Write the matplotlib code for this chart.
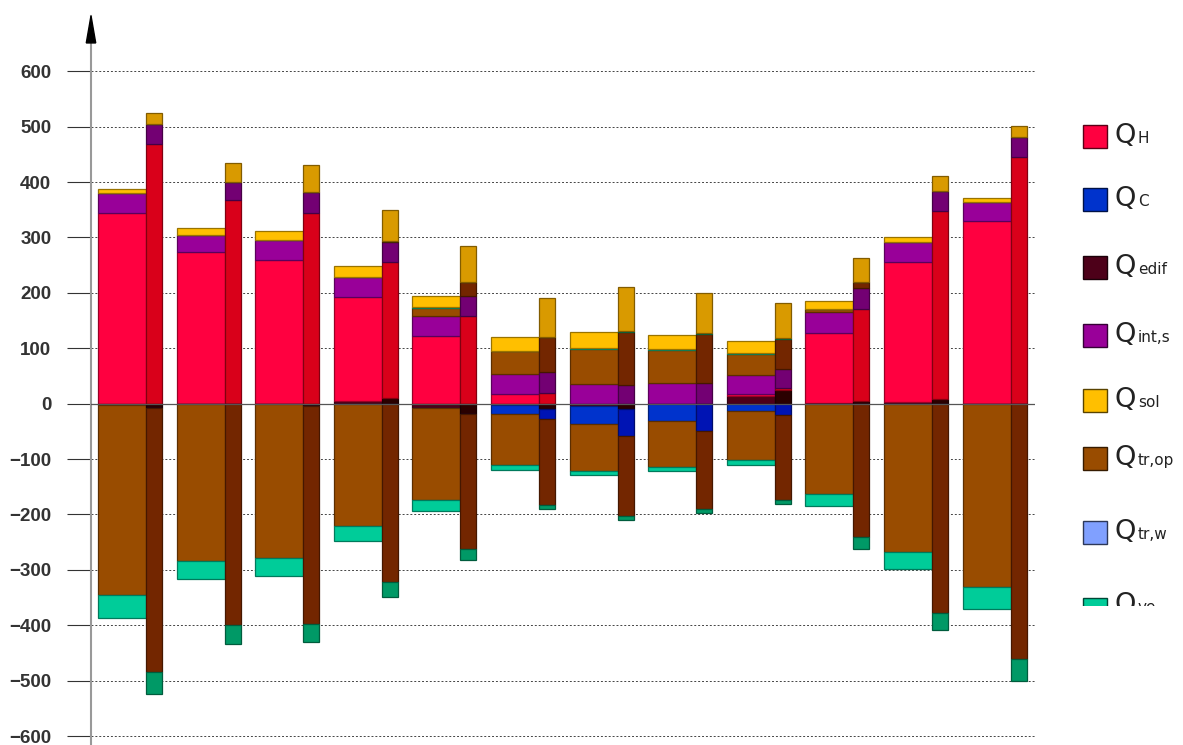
import matplotlib
matplotlib.use('Agg')
import matplotlib.pyplot as plt
from matplotlib.patches import Rectangle, Polygon
import numpy as np

months = list(range(12))

# wide bars (left of each month)
edif_pos_a = [0, 0, 0, 5, 0, 0, 0, 0, 14, 2, 3, 0]
edif_neg_a = [-2, -1, -1, 0, -8, -3, -4, 0, 0, 0, 0, 0]
qh_a = [344, 274, 259, 188, 122, 18, 0, 0, 4, 126, 252, 330]
qc_a = [0, 0, 0, 0, 0, -15, -33, -32, -14, 0, 0, 0]
qint_a = [36, 31, 36, 35, 36.5, 36, 36, 38, 33, 38, 36, 34]
trop_pos_a = [0, 0, 0, 0, 14.5, 40.5, 63.5, 58.5, 39, 4.4, 0, 0]
trop_neg_a = [-343.5, -282.6, -278, -221, -166, -93, -85, -82.4, -88, -163, -267.4, -331]
ve_pos_a = [0, 0, 0, 0, 1, 1, 1.5, 1.5, 1, 0, 0, 0]
ve_neg_a = [-41, -32.4, -32, -26.6, -20, -9, -7, -8, -9, -22, -31.6, -40]
sol_a = [8, 12, 17, 20, 20.5, 24.5, 28.5, 25.6, 21.3, 15.5, 9, 8]

# narrow bars (right of each month)
edif_pos_b = [0, 0, 0, 11, 0, 0, 0, 0, 25, 4, 8, 0]
edif_neg_b = [-8, 0, -4, 0, -19, -10, -9, 0, 0, 0, 0, 0]
qh_b = [468, 368, 344, 245, 158, 20, 0, 0, 3, 166.5, 340, 445]
qc_b = [0, 0, 0, 0, 0, -18, -49.6, -50, -21, 0, 0, 0]
qint_b = [36, 32, 38, 36, 36.5, 37, 33, 38, 35, 37.5, 36, 36]
trop_pos_b = [0, 0, 0, 2, 25.5, 62.5, 96.5, 87.4, 54, 10.7, 0, 0]
trop_neg_b = [-476, -400, -394, -321.5, -243.5, -154.5, -144, -141, -153, -241.5, -377, -460]
ve_pos_b = [0, 0, 0, 0, 0, 1, 1.5, 1.5, 1, 0, 0, 0]
ve_neg_b = [-40, -33, -32, -27, -20, -7, -6.5, -7, -8, -21, -32, -40]
sol_b = [21, 34.5, 49, 55, 64, 71, 78.7, 72, 63.4, 44.3, 26.5, 19.7]

legend_labels = [('Q', 'H'), ('Q', 'C'), ('Q', 'edif'), ('Q', 'int,s'),
                 ('Q', 'sol'), ('Q', 'tr,op'), ('Q', 'tr,w'), ('Q', 've')]

colors_a = {'edif': '#4D0019', 'qh': '#FF0040', 'qc': '#0033CC', 'qint': '#990099',
            'sol': '#FFBF00', 'trop': '#994C00', 'trw': '#80A0FF', 've': '#00CC99'}
colors_b = {'edif': '#2A0000', 'qh': '#D9001A', 'qc': '#0014B4', 'qint': '#730073',
            'sol': '#D99A00', 'trop': '#732600', 'trw': '#6080DD', 've': '#009966'}


def darker(c, f=0.6):
    r, g, b = matplotlib.colors.to_rgb(c)
    return (r * f, g * f, b * f)


def stack(ax, left, width, pos, neg, cols):
    x = np.array(months) + left
    bottom = np.zeros(12)
    for key, vals in pos:
        v = np.array(vals, dtype=float)
        ax.bar(x, v, width, bottom=bottom, align='edge', color=cols[key],
               edgecolor=darker(cols[key]), linewidth=0.9, zorder=3)
        bottom += v
    bottom = np.zeros(12)
    for key, vals in neg:
        v = np.array(vals, dtype=float)
        ax.bar(x, v, width, bottom=bottom, align='edge', color=cols[key],
               edgecolor=darker(cols[key]), linewidth=0.9, zorder=3)
        bottom += v


fig = plt.figure(figsize=(11.83, 7.45), dpi=100)
ax = fig.add_axes([91 / 1183, 0.0008, (1035 - 91) / 1183, 0.978])

wide, narrow = 0.61, 0.204
stack(ax, 0, wide,
      [('edif', edif_pos_a), ('qh', qh_a), ('qint', qint_a), ('trop', trop_pos_a),
       ('ve', ve_pos_a), ('sol', sol_a)],
      [('edif', edif_neg_a), ('qc', qc_a), ('trop', trop_neg_a), ('ve', ve_neg_a)],
      colors_a)
stack(ax, wide, narrow,
      [('edif', edif_pos_b), ('qh', qh_b), ('qint', qint_b), ('trop', trop_pos_b),
       ('ve', ve_pos_b), ('sol', sol_b)],
      [('edif', edif_neg_b), ('qc', qc_b), ('trop', trop_neg_b), ('ve', ve_neg_b)],
      colors_b)

ax.set_xlim(-0.089, 11.92)
ax.set_ylim(-615, 700)
ax.set_yticks(range(-600, 601, 100))
ax.set_xticks([])
ax.yaxis.grid(True, linestyle=(0, (2, 2)), color='#444444', linewidth=0.7)
ax.set_axisbelow(True)
ax.axhline(0, color='#555555', linewidth=0.9, zorder=5)
ax.tick_params(axis='y', direction='out', length=17.6, width=0.8, color='#333333',
               pad=11, labelsize=13.5, labelcolor='#333333')
for lab in ax.get_yticklabels():
    lab.set_fontweight('bold')
    lab.set_family('Liberation Sans')
for s in ['top', 'right', 'bottom']:
    ax.spines[s].set_visible(False)
ax.spines['left'].set_color('#999999')
ax.spines['left'].set_linewidth(1.5)
ax.add_patch(Polygon([(-0.005, 651), (0.005, 651), (0, 700)], closed=True,
                     transform=ax.get_yaxis_transform(), clip_on=False,
                     color='black', zorder=6))

# legend drawn by hand in pixel coordinates
lax = fig.add_axes([1060 / 1183, (745 - 606) / 745, 123 / 1183, (606 - 100) / 745])
lax.set_xlim(1060, 1183)
lax.set_ylim(606, 100)
lax.axis('off')
leg_keys = ['qh', 'qc', 'edif', 'qint', 'sol', 'trop', 'trw', 've']
leg_tops = [125, 188, 256, 324, 389, 447, 521, 598]
leg_base = [143, 206, 274, 342, 407, 465, 539, 612]
for key, top, base, (q, sub) in zip(leg_keys, leg_tops, leg_base, legend_labels):
    lax.add_patch(Rectangle((1083, top), 24, 23, facecolor=colors_a[key],
                            edgecolor=darker(colors_a[key], 0.35), linewidth=1.0))
    lax.text(1115, base, q, fontsize=19.5, color='#222222', va='baseline',
             ha='left', clip_on=True)
    lax.text(1138, base, sub, fontsize=11, color='#222222', va='baseline',
             ha='left', clip_on=True)

fig.savefig('out.png', dpi=100)
